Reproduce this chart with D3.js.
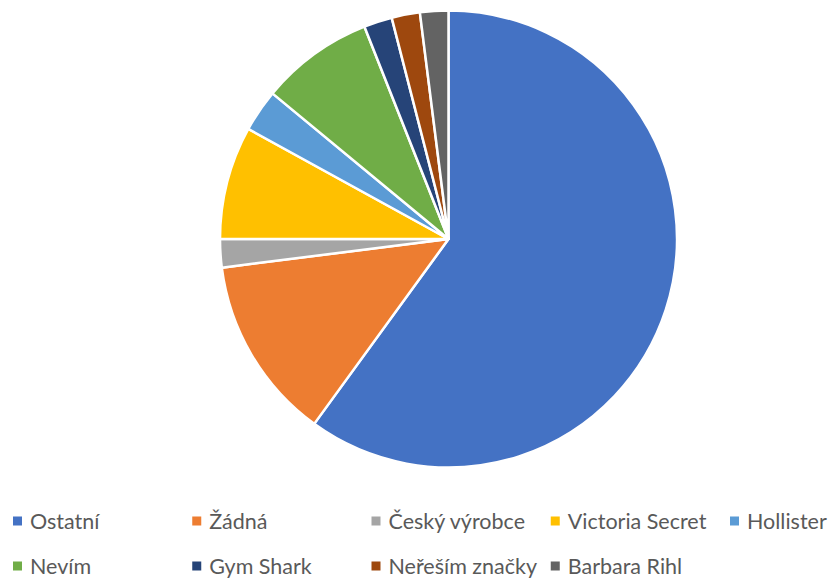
<!DOCTYPE html>
<html>
<head>
<meta charset="utf-8">
<script src="https://cdn.jsdelivr.net/npm/d3@7"></script>
<style>
  html, body { margin: 0; padding: 0; background: #fff; }
  svg { display: block; }
</style>
</head>
<body>
<svg id="chart" width="831" height="578"></svg>
<script>
// Brand categories and their shares (%)
const categories = ["Ostatní", "Žádná", "Český výrobce", "Victoria Secret", "Hollister",
                    "Nevím", "Gym Shark", "Neřeším značky", "Barbara Rihl"];
const values = [60, 13, 2, 8, 3, 8, 2, 2, 2];
const colors = ["#4472C4", "#ED7D31", "#A5A5A5", "#FFC000", "#5B9BD5",
                "#70AD47", "#264478", "#9E480E", "#636363"];

const svg = d3.select("#chart");
const cx = 448.5, cy = 239, r = 228.5;

const pie = d3.pie().sort(null).value(d => d.value);
const arc = d3.arc().innerRadius(0).outerRadius(r);
const data = categories.map((c, i) => ({ name: c, value: values[i], color: colors[i] }));

svg.append("g")
  .attr("transform", `translate(${cx},${cy})`)
  .selectAll("path")
  .data(pie(data))
  .join("path")
  .attr("d", arc)
  .attr("fill", d => d.data.color)
  .attr("stroke", "#fff")
  .attr("stroke-width", 2.5)
  .attr("stroke-linejoin", "round");

// Legend: two rows, five columns
const colX = d3.scaleLinear().domain([0, 4]).range([13, 730]);
const rowY = d3.scaleLinear().domain([0, 1]).range([521, 566]);
const legend = svg.append("g")
  .selectAll("g")
  .data(data)
  .join("g")
  .attr("transform", (d, i) => `translate(${colX(i % 5)},${rowY(Math.floor(i / 5))})`);

legend.append("rect")
  .attr("x", 0).attr("y", -4.5)
  .attr("width", 9).attr("height", 9)
  .attr("fill", d => d.color);

legend.append("text")
  .attr("x", 17).attr("y", 7.5)
  .attr("font-family", "Lato, sans-serif")
  .attr("font-size", 21.5)
  .attr("fill", "#595959")
  .text(d => d.name);
</script>
</body>
</html>
